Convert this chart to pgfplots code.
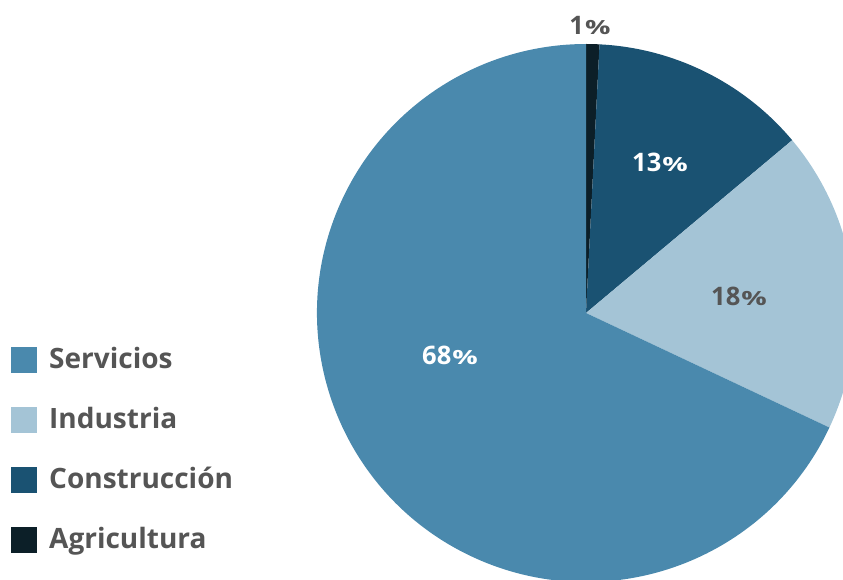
\documentclass[border=0pt]{standalone}
\usepackage{pgfplots}
\pgfplotsset{compat=1.18}
\usepackage{pgfplotstable}
\usepackage{graphicx}
\usepackage{fontspec}
\setmainfont{Open Sans}
\definecolor{cServ}{HTML}{4A89AD}
\definecolor{cInd}{HTML}{A4C4D6}
\definecolor{cCons}{HTML}{1A5272}
\definecolor{cAgr}{HTML}{0C1F28}
\definecolor{txt}{HTML}{555555}
% shares of the pie (percent), clockwise from 12 o'clock
\pgfplotstableread{
label pct
Agricultura 0.8
Construccion 13.1
Industria 18.1
Servicios 68.0
}\piedata
\pgfplotstablegetelem{0}{pct}\of\piedata \let\pA\pgfplotsretval
\pgfplotstablegetelem{1}{pct}\of\piedata \let\pB\pgfplotsretval
\pgfplotstablegetelem{2}{pct}\of\piedata \let\pC\pgfplotsretval
\pgfplotstablegetelem{3}{pct}\of\piedata \let\pD\pgfplotsretval
\pgfmathsetmacro{\aA}{90}
\pgfmathsetmacro{\aB}{\aA-3.6*\pA}
\pgfmathsetmacro{\aC}{\aB-3.6*\pB}
\pgfmathsetmacro{\aD}{\aC-3.6*\pC}
\pgfmathsetmacro{\aE}{\aD-3.6*\pD}
\newcommand{\pct}[1]{#1\kern1pt{\fontsize{19.5}{19.5}\selectfont\scalebox{1.45}[1]{\%}}}
\begin{document}
\begin{tikzpicture}
\useasboundingbox (0,0) rectangle (843pt,579pt);
\clip (0,0) rectangle (843pt,579pt);
\begin{axis}[
  at={(0,0)}, anchor=origin,
  x=1pt, y=1pt,
  xmin=0, xmax=843, ymin=0, ymax=579,
  hide axis, clip=false,
]
\fill[cAgr]  (axis cs:586,266) -- ++(\aA:269pt) arc[start angle=\aA, end angle=\aB, radius=269pt] -- cycle;
\fill[cCons] (axis cs:586,266) -- ++(\aB:269pt) arc[start angle=\aB, end angle=\aC, radius=269pt] -- cycle;
\fill[cInd]  (axis cs:586,266) -- ++(\aC:269pt) arc[start angle=\aC, end angle=\aD, radius=269pt] -- cycle;
\fill[cServ] (axis cs:586,266) -- ++(\aD:269pt) arc[start angle=\aD, end angle=\aE, radius=269pt] -- cycle;
% slice labels
\node[text=txt, font=\bfseries\fontsize{25.5}{25.5}\selectfont] at (axis cs:590,554) {\pct{1}};
\node[text=white, font=\bfseries\fontsize{25.5}{25.5}\selectfont] at (axis cs:660,417) {\pct{13}};
\node[text=txt, font=\bfseries\fontsize{25.5}{25.5}\selectfont] at (axis cs:739,283) {\pct{18}};
\node[text=white, font=\bfseries\fontsize{25.5}{25.5}\selectfont] at (axis cs:450,224) {\pct{68}};
% legend
\fill[cServ] (axis cs:11,206) rectangle (axis cs:37,232);
\fill[cInd]  (axis cs:11,146) rectangle (axis cs:37,172);
\fill[cCons] (axis cs:11,86) rectangle (axis cs:37,112);
\fill[cAgr]  (axis cs:11,26) rectangle (axis cs:37,52);
\node[anchor=base west, inner sep=0pt, text=txt, font=\bfseries\fontsize{28}{28}\selectfont] at (axis cs:49,211) {Servicios};
\node[anchor=base west, inner sep=0pt, text=txt, font=\bfseries\fontsize{28}{28}\selectfont] at (axis cs:49,151) {Industria};
\node[anchor=base west, inner sep=0pt, text=txt, font=\bfseries\fontsize{28}{28}\selectfont] at (axis cs:49,91) {Construcción};
\node[anchor=base west, inner sep=0pt, text=txt, font=\bfseries\fontsize{28}{28}\selectfont] at (axis cs:49,31) {Agricultura};
\end{axis}
\end{tikzpicture}
\end{document}
